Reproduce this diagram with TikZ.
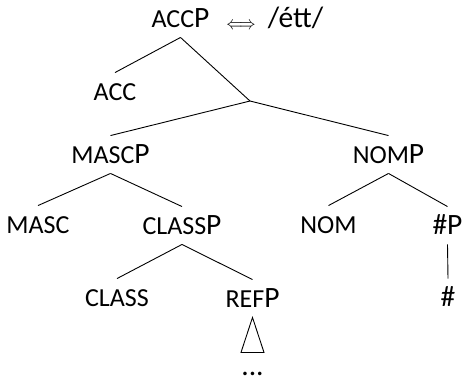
\documentclass[tikz,border=0pt]{standalone}
\usepackage{fontspec}
\usepackage{graphicx}
\setmainfont{Carlito}
\newcommand\feat[1]{{\fontsize{26}{26}\selectfont #1}}
\begin{document}
\begin{tikzpicture}[x=1pt,y=-1pt,
    every node/.style={anchor=base,inner xsep=0pt,inner ysep=10pt,
      text height=17pt,text depth=0pt,font=\fontsize{29.5}{29.5}\selectfont},
    line width=0.9pt]
      \useasboundingbox (0,0) rectangle (464,381);
      \draw
        (180.5,27) node (accp){\feat{ACC}P}
        (241,29) node (rel){\fontsize{10}{10}\selectfont\scalebox{1.6}[1.9]{$\Longleftrightarrow$}}
        (295.5,27) node (form){/étt/}
        (115,100) node (acc){\feat{ACC}}
        (110.5,163) node (mascp){\feat{MASC}P}
        (388.5,163) node (nomp){\feat{NOM}P}
        (38,233) node (masc){\feat{MASC}}
        (182,234) node (classp){\feat{CLASS}P}
        (328.5,233) node (nom){\feat{NOM}}
        (447.5,234) node (hashp){\#P}
        (117,306) node (class){\feat{CLASS}}
        (252.5,307) node (refp){\feat{REF}P}
        (448,306) node (hash){\#}
        (252.5,375) node[inner ysep=1pt,text height=4pt] (dots){...};
      \coordinate (bar) at (250,101);
      \begin{scope}[-]
        \draw (accp.south) to (acc.north);
        \draw (accp.south) to (bar);
        \draw (bar) to (mascp.north);
        \draw (bar) to (nomp.north);
        \draw (mascp.south) to (masc.north);
        \draw (mascp.south) to (classp.north);
        \draw (nomp.south) to (nom.north);
        \draw (nomp.south) to (hashp.north);
        \draw (classp.south) to (class.north);
        \draw (classp.south) to (refp.north);
        \draw (hashp.south) to (hash.north);
        \draw (refp.south) -- ++(-11.5,35) -- ++(23,0) -- cycle;
      \end{scope}
    \end{tikzpicture}
\end{document}
